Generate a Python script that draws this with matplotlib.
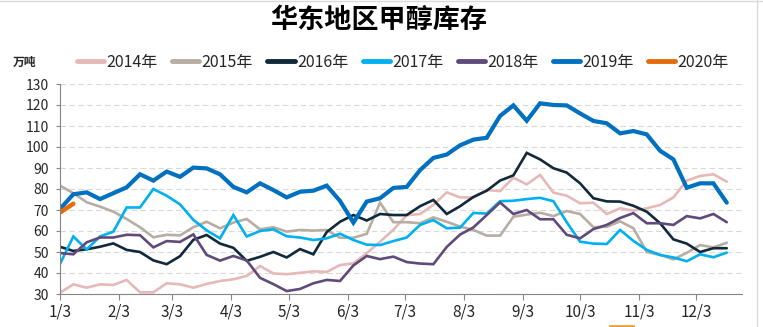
import numpy as np
import matplotlib
matplotlib.use("Agg")
import matplotlib.pyplot as plt
from matplotlib.lines import Line2D

plt.rcParams['font.family'] = ['Noto Sans CJK SC', 'DejaVu Sans']

# Weekly methanol inventory in East China (10k tonnes); x = days after Jan 3
weeks = np.arange(51) * 7

month_ticks = [0, 31, 59, 90, 120, 151, 181, 212, 243, 273, 304, 334]
month_labels = ['1/3', '2/3', '3/3', '4/3', '5/3', '6/3', '7/3', '8/3',
                '9/3', '10/3', '11/3', '12/3']

inv_2014 = [30.6, 34.6, 33.0, 34.6, 34.3, 36.7, 30.8, 30.8, 35.1, 34.6,
            33.0, 34.8, 36.2, 37.0, 38.6, 43.3, 39.8, 39.4, 40.1, 40.8,
            40.5, 43.8, 44.6, 49.4, 54.9, 60.6, 67.5, 68.1, 72.4, 78.4,
            76.0, 76.0, 79.5, 79.0, 85.4, 82.2, 86.7, 78.3, 76.8, 73.2,
            73.5, 68.1, 70.8, 69.7, 70.8, 72.4, 76.0, 84.0, 86.2, 87.0,
            83.5]
inv_2015 = [81.6, 78.0, 73.7, 71.6, 69.2, 65.7, 61.8, 57.0, 58.2, 57.9,
            61.8, 64.4, 61.3, 64.0, 65.7, 60.8, 61.8, 59.7, 60.5, 60.2,
            60.5, 56.8, 56.8, 58.6, 73.5, 64.2, 64.2, 63.7, 66.5, 64.4,
            62.1, 60.5, 57.8, 57.8, 66.8, 67.8, 68.7, 67.1, 69.5, 68.1,
            61.8, 62.0, 64.6, 61.3, 50.0, 48.6, 46.5, 49.6, 53.3, 52.2,
            54.4]
inv_2016 = [52.5, 50.5, 51.3, 52.5, 54.1, 51.0, 50.0, 46.0, 44.2, 48.0,
            55.8, 58.1, 54.0, 52.0, 45.8, 47.7, 50.0, 47.4, 51.4, 48.9,
            59.5, 64.4, 67.6, 65.0, 68.1, 67.6, 67.6, 71.8, 74.8, 68.1,
            71.8, 76.2, 79.2, 84.0, 86.5, 97.2, 94.1, 89.9, 87.8, 82.7,
            75.6, 74.1, 74.0, 72.0, 69.2, 63.7, 56.0, 54.0, 50.0, 51.8,
            51.8]
inv_2017 = [44.3, 57.4, 51.2, 57.4, 59.7, 71.2, 71.2, 80.0, 76.8, 72.7,
            65.3, 60.3, 56.5, 67.6, 57.4, 60.0, 60.8, 57.5, 56.9, 55.7,
            56.5, 58.7, 55.7, 53.5, 53.3, 55.2, 56.9, 62.9, 65.2, 61.3,
            61.6, 68.6, 68.3, 74.2, 74.4, 75.2, 75.8, 74.2, 64.2, 54.9,
            54.0, 53.8, 60.5, 55.3, 51.0, 48.6, 47.4, 45.6, 48.9, 47.5,
            49.7]
inv_2018 = [49.5, 48.9, 54.6, 56.9, 56.9, 58.2, 58.0, 52.2, 55.2, 54.8,
            58.4, 48.6, 45.9, 48.1, 46.0, 37.7, 34.7, 31.4, 32.4, 35.1,
            36.7, 36.2, 43.6, 48.1, 46.6, 47.8, 45.2, 44.5, 44.2, 52.4,
            58.3, 61.7, 67.6, 73.6, 68.1, 70.0, 65.6, 65.6, 58.2, 56.5,
            60.9, 62.9, 66.2, 68.5, 63.7, 63.7, 62.9, 67.1, 66.0, 68.1,
            64.2]
inv_2019 = [70.5, 77.5, 78.4, 75.2, 78.0, 80.8, 87.0, 84.0, 88.3, 85.8,
            90.2, 89.8, 87.0, 81.0, 78.4, 82.7, 79.5, 76.0, 78.7, 79.2,
            81.6, 74.3, 64.0, 74.0, 75.6, 80.5, 81.0, 89.0, 94.8, 96.4,
            100.8, 103.5, 104.4, 114.8, 119.8, 112.5, 120.8, 120.0, 119.8, 116.0,
            112.4, 111.3, 106.5, 107.6, 106.0, 98.2, 94.1, 80.6, 82.7, 82.7,
            73.5]
inv_2020 = [68.8, 73.0]

series = [
    ('2014年', inv_2014, '#E6B9B8', 1.9),
    ('2015年', inv_2015, '#B8ADA2', 1.9),
    ('2016年', inv_2016, '#10293B', 1.9),
    ('2017年', inv_2017, '#00B0F0', 1.9),
    ('2018年', inv_2018, '#604A7B', 1.9),
    ('2019年', inv_2019, '#0070C0', 3.0),
    ('2020年', inv_2020, '#E46C0A', 3.2),
]

fig = plt.figure(figsize=(7.63, 3.27), dpi=100)
ax = fig.add_axes([60 / 763, 33 / 327, 682 / 763, 210 / 327])

for name, vals, color, lw in series:
    ax.plot(weeks[:len(vals)], vals, color=color, lw=lw, label=name,
            solid_capstyle='round', solid_joinstyle='miter')

ax.set_xlim(0, 358)
ax.set_ylim(30, 130)
ax.set_yticks(range(30, 131, 10))
ax.set_xticks(month_ticks)
ax.set_xticklabels(month_labels)

ax.yaxis.grid(True, color='#D9D9D9', lw=0.8, ls=(0, (5, 3)))
ax.set_axisbelow(True)
for side in ('top', 'right'):
    ax.spines[side].set_visible(False)
for side in ('left', 'bottom'):
    ax.spines[side].set_color('#868686')
    ax.spines[side].set_linewidth(0.8)
ax.tick_params(axis='y', length=3, width=0.8, color='#868686', pad=5,
               labelsize=10, labelcolor='#262626')
ax.tick_params(axis='x', length=4, width=0.8, color='#868686', pad=3,
               labelsize=11, labelcolor='#262626')

fig.text(0.497, 0.938, '华东地区甲醇库存', ha='center', va='center',
         fontsize=19.5, fontweight='bold', color='black')
fig.text(25 / 763, 1 - 62 / 327, '万吨', ha='center', va='center',
         fontsize=8.5, fontweight='bold', color='#262626')

leg = fig.legend(loc='center', bbox_to_anchor=(403 / 763, 1 - 62 / 327),
                 ncol=7, frameon=False, fontsize=11.5, handlelength=1.7,
                 handletextpad=0.15, columnspacing=0.9, borderaxespad=0)
for h in leg.get_lines():
    h.set_linewidth(3.5)
for t in leg.get_texts():
    t.set_color('#262626')

# frame edges of the chart panel
fig.add_artist(Line2D([0, 1], [0.998, 0.998], color='#D9D9D9', lw=1,
                      transform=fig.transFigure))
fig.add_artist(Line2D([757 / 763, 757 / 763], [0, 1], color='#D9D9D9', lw=1,
                      transform=fig.transFigure))
fig.add_artist(Line2D([610 / 763, 633 / 763], [1 - 325.5 / 327, 1 - 325.5 / 327],
                      color='#F0A030', lw=2, transform=fig.transFigure))

fig.savefig('out.png', dpi=100)
